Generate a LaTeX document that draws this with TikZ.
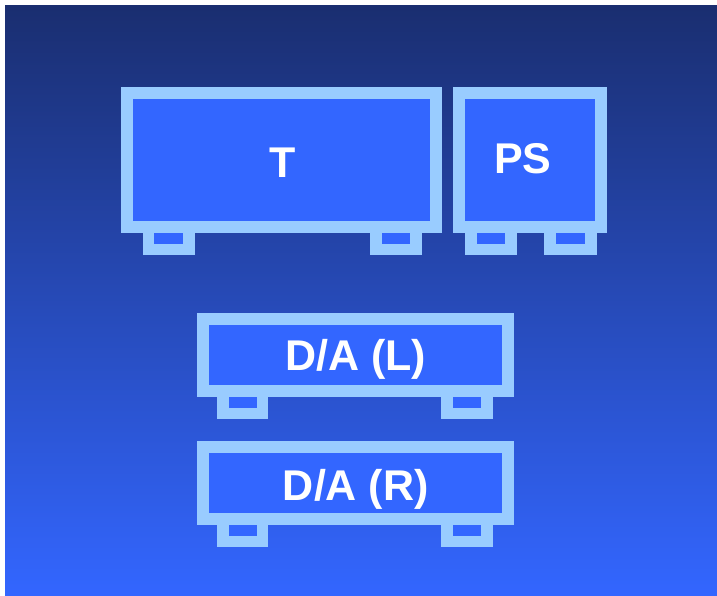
\documentclass[tikz,border=0pt]{standalone}
\usepackage{fontspec}
\setmainfont{Liberation Sans}
\definecolor{bgtop}{HTML}{1A2E70}
\definecolor{bgbot}{HTML}{3366FF}
\definecolor{boxfill}{HTML}{3366FF}
\definecolor{frame}{HTML}{99CCFF}
\tikzset{
  unitbox/.style={draw=frame, fill=boxfill, line width=12pt, rectangle, inner sep=0pt, outer sep=0pt},
  foot/.style={draw=frame, fill=boxfill, line width=11.5pt},
  lbl/.style={text=white, font=\bfseries\fontsize{43}{44}\selectfont, inner sep=0pt, anchor=base}
}
\begin{document}
\begin{tikzpicture}[x=1pt,y=-1pt]
\useasboundingbox (0,0) rectangle (717,595);
\fill[white] (0,0) rectangle (717,595);
\shade[top color=bgtop, bottom color=bgbot] (5,5) rectangle (717,595);
% feet
\draw[foot] (148.5,227) rectangle (189,249.5);
\draw[foot] (376,227) rectangle (416,249.5);
\draw[foot] (471,227) rectangle (511,249.5);
\draw[foot] (550,227) rectangle (591,249.5);
\draw[foot] (223,391) rectangle (262.5,413.5);
\draw[foot] (447,391) rectangle (487,413.5);
\draw[foot] (223,519) rectangle (262.5,541.5);
\draw[foot] (447,519) rectangle (487,541.5);
% boxes
\node[unitbox, minimum width=309pt, minimum height=134pt] (T) at (281.5,160) {};
\node[unitbox, minimum width=142pt, minimum height=134pt] (PS) at (530,160) {};
\node[unitbox, minimum width=305pt, minimum height=72pt] (DAL) at (355.5,355) {};
\node[unitbox, minimum width=305pt, minimum height=72pt] (DAR) at (355.5,483) {};
% labels
\node[lbl] (tT) at (282.5,177) {T};
\node[lbl] (tPS) at (522.7,173.5) {PS};
\node[lbl] (tDAL) at (355.8,370.5) {D/A (L)};
\node[lbl] (tDAR) at (355.8,500.5) {D/A (R)};
\end{tikzpicture}
\end{document}
